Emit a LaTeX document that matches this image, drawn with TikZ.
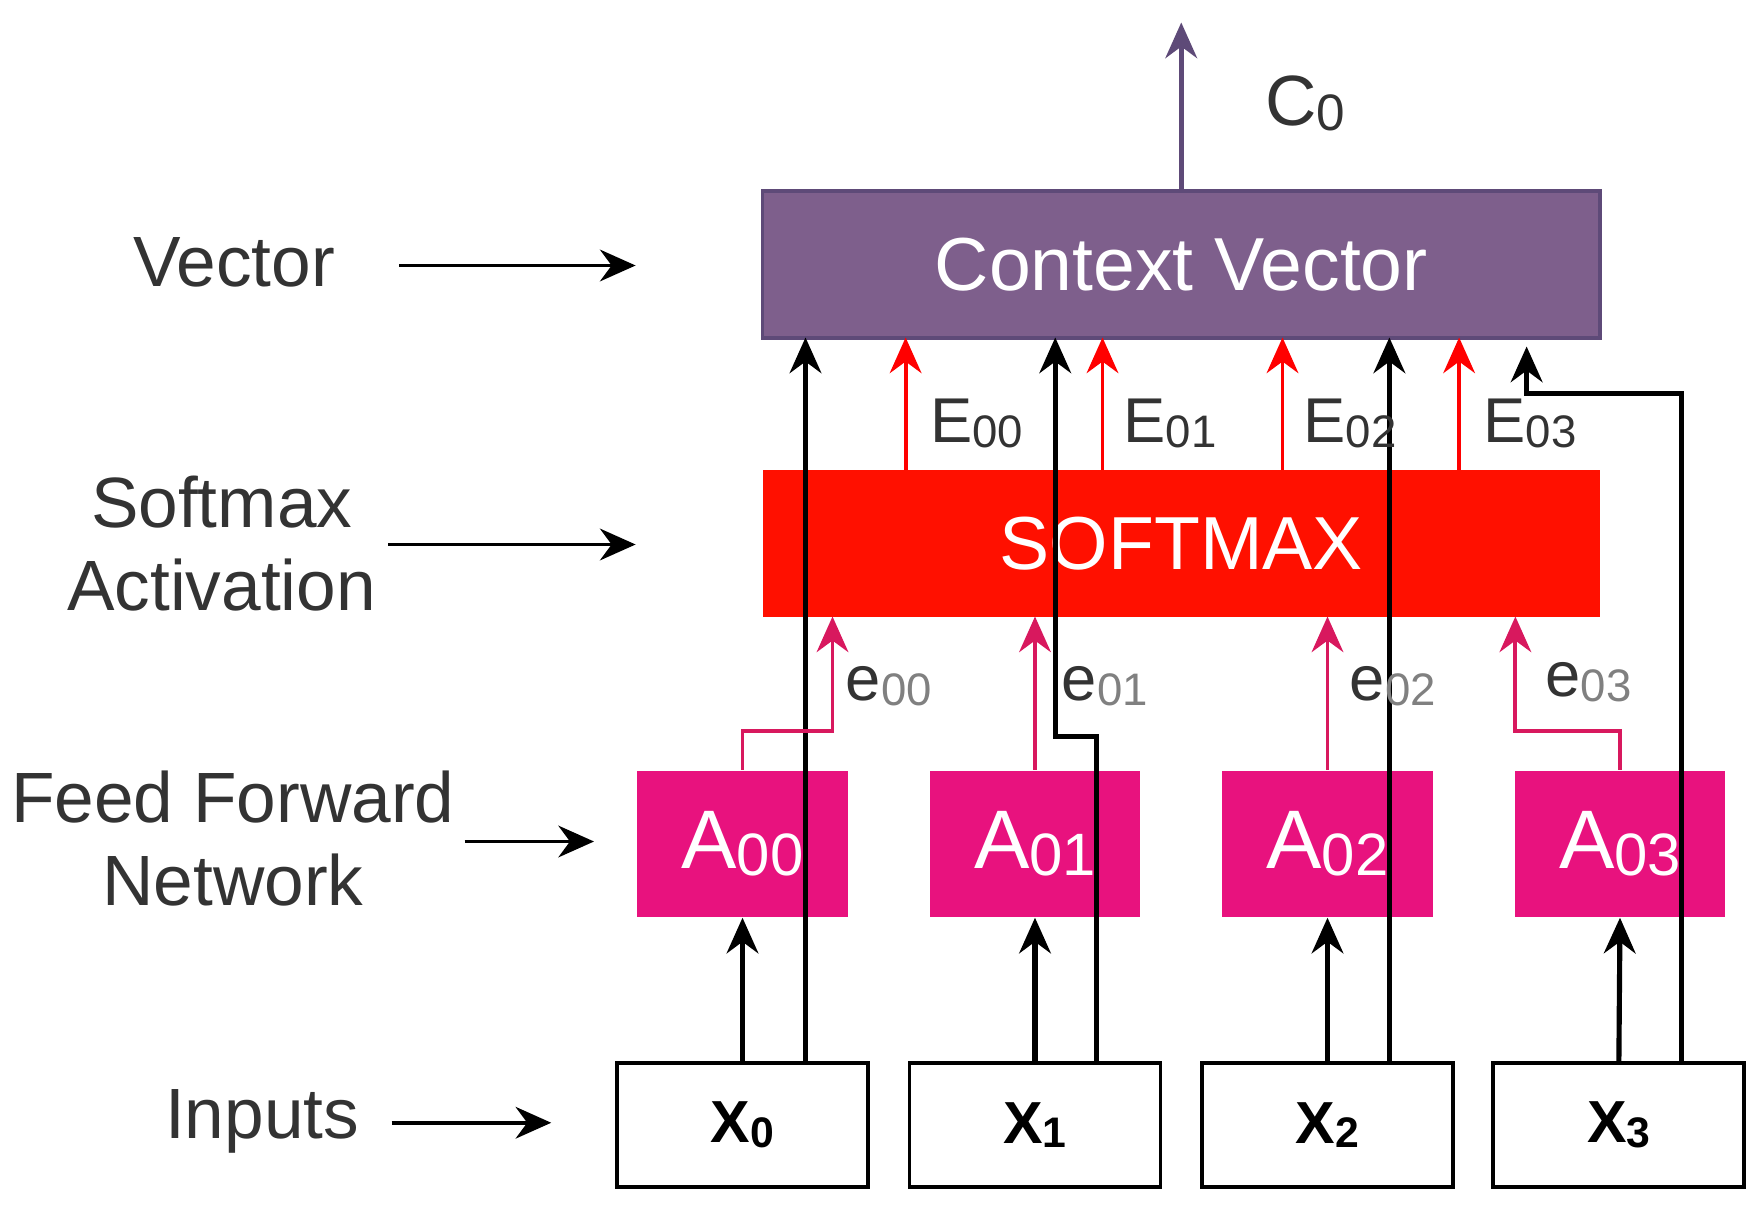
\documentclass[tikz,border=0pt]{standalone}
\usepackage{fontspec}
\setmainfont{Liberation Sans}
\usetikzlibrary{arrows.meta}
\newcommand{\mysub}[1]{\raisebox{-0.15ex}{\scalebox{0.72}{#1}}}
\definecolor{cvpurple}{HTML}{7E5F8C}
\definecolor{cvborder}{HTML}{5E4A78}
\definecolor{smred}{HTML}{FF1000}
\definecolor{apink}{HTML}{E8127E}
\definecolor{epink}{HTML}{D8185E}
\begin{document}
\begin{tikzpicture}[x=0.01cm,y=-0.01cm,
  lab/.style={font=\fontsize{18}{22}\selectfont,align=center,text=black!80},
  arr/.style={-{Stealth[length=9pt,width=8pt]},line width=1.3pt},
  thin arr/.style={-{Stealth[length=9pt,width=8pt]},line width=1pt},
  abox/.style={fill=apink,draw=apink,minimum width=187\pgflinewidth,text=white},
  xbox/.style={draw=black,line width=1pt,fill=white},
  elab/.style={font=\fontsize{16}{18}\selectfont,text=black!80},
]
\useasboundingbox (0,0) rectangle (1560,1079);
% big boxes
\node[draw=cvborder,line width=1pt,fill=cvpurple] (cv) at (1050,235) [minimum width=7.44cm,minimum height=1.3cm,text=white,font=\fontsize{19}{22}\selectfont] {Context Vector};
\node[fill=smred] (sm) at (1050,483) [minimum width=7.44cm,minimum height=1.3cm,text=white,font=\fontsize{19}{22}\selectfont] {SOFTMAX};
% A boxes
\foreach \i/\x in {0/660,1/920,2/1180,3/1440}{
  \node[fill=apink,minimum width=1.87cm,minimum height=1.3cm,text=white,font=\fontsize{21}{24}\selectfont] (a\i) at (\x,750) {A\mysub{0\i}};
  \node[xbox,minimum width=2.23cm,minimum height=1.1cm,font=\bfseries\fontsize{15}{18}\selectfont] (x\i) at (\x+\ifnum\i=0 0\else\ifnum\i=3 -1\else 0\fi\fi,1000) {X\mysub{\i}};
  \draw[arr] (x\i.north) -- (a\i.south);
}
% output
\coordinate (top) at (1050,20);
\draw[arr,draw=cvborder] (cv.north) -- (top);
\node[lab] (c0) at (1160,92) {C\mysub{0}};
% left labels
\node[lab] (lv) at (208,233) {Vector};
\coordinate (lv2) at (565,236);
\draw[thin arr] (355,236) coordinate (lv1) -- (lv2);
\node[lab,inner sep=0pt,text depth=0pt] (ls) at (197,483) {Softmax\\[-1pt]Activation};
\draw[thin arr] (345,484) coordinate (ls1) -- (565,484) coordinate (ls2);
\node[lab,inner sep=0pt] (lf) at (207,745) {Feed Forward\\[-1pt]Network};
\draw[thin arr] (413,748) coordinate (lf1) -- (528,748) coordinate (lf2);
\node[lab] (li) at (233,997) {Inputs};
\draw[thin arr] (348,998) coordinate (li1) -- (490,998) coordinate (li2);
% black bypass arrows
\draw[arr] (716,945) -- (716,300);
\draw[arr] (975,945) -- (975,655) -- (938,655) -- (938,300);
\draw[arr] (1235,945) -- (1235,300);
\draw[arr] (1495,945) -- (1495,350) -- (1357,350) -- (1357,308);
% pink e arrows
\draw[thin arr,draw=epink] (a0.north) -- (660,650) -- (740,650) -- (740,548);
\draw[thin arr,draw=epink] (a1.north) -- (920,548);
\draw[thin arr,draw=epink] (a2.north) -- (1180,548);
\draw[thin arr,draw=epink] (a3.north) -- (1440,650) -- (1347,650) -- (1347,548);
\node[elab] (e0) at (790,610) {e{\color{black!50}\mysub{00}}};
\node[elab] (e1) at (982,610) {e{\color{black!50}\mysub{01}}};
\node[elab] (e2) at (1238,610) {e{\color{black!50}\mysub{02}}};
\node[elab] (e3) at (1412,606) {e{\color{black!50}\mysub{03}}};
% red E arrows
\foreach \x/\n/\lx in {805/00/868,980/01/1040,1140/02/1200,1297/03/1360}{
  \draw[thin arr,draw=red] (\x,418) -- (\x,300);
  \node[elab] (E\n) at (\lx,376) {E\mysub{\n}};
}
\end{tikzpicture}
\end{document}
